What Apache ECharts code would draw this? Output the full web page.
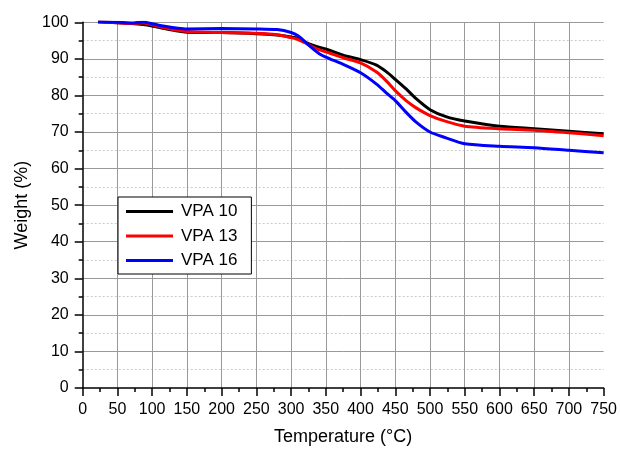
<!DOCTYPE html>
<html>
<head>
<meta charset="utf-8">
<script src="https://cdn.jsdelivr.net/npm/echarts@6/dist/echarts.min.js"></script>
<style>
  html, body { margin: 0; padding: 0; background: #fff; }
  #chart { width: 620px; height: 451px; }
</style>
</head>
<body>
<div id="chart"></div>
<script>
// temperature (°C) sample points
var temps = [22, 50, 70, 87, 100, 118, 137, 150, 200, 250, 280, 300, 310, 320, 330, 340, 350, 375, 400, 423, 437, 450, 466, 480, 500, 523, 550, 600, 650, 700, 750];
// weight (%) for each sample
var vpa10 = [100.1, 99.9, 99.7, 99.4, 99.0, 98.3, 97.6, 97.3, 97.2, 96.9, 96.5, 96.0, 95.6, 94.6, 93.8, 93.2, 92.7, 91.0, 89.8, 88.3, 86.5, 84.4, 81.7, 79.1, 76.1, 74.2, 73.0, 71.6, 70.9, 70.2, 69.5];
var vpa13 = [100.2, 99.9, 99.7, 99.8, 99.3, 98.5, 97.8, 97.5, 97.2, 97.0, 96.6, 95.8, 95.3, 94.4, 93.4, 92.5, 91.9, 90.3, 88.9, 86.4, 84.0, 81.3, 78.5, 76.6, 74.5, 72.9, 71.6, 70.9, 70.5, 69.8, 69.0];
var vpa16 = [100.2, 100.0, 99.8, 100.1, 99.6, 98.9, 98.4, 98.2, 98.3, 98.2, 98.0, 97.2, 96.3, 94.7, 93.0, 91.5, 90.5, 88.5, 86.2, 83.1, 80.7, 78.6, 75.3, 72.7, 70.0, 68.4, 66.8, 66.1, 65.7, 65.0, 64.3];
var seriesNames = ['VPA 10', 'VPA 13', 'VPA 16'];
var seriesColors = ['#000000', '#ff0000', '#0000ff'];
var xTicks = { min: 0, max: 750, step: 50 };
var yTicks = { min: 0, max: 100, step: 10 };

function pairs(xs, ys) {
  var out = [];
  for (var i = 0; i < xs.length; i++) {
    out.push([xs[i], ys[i]]);
  }
  return out;
}

var font = '"Liberation Sans", Arial, sans-serif';
var allData = [vpa10, vpa13, vpa16];
var series = [];
for (var i = 0; i < seriesNames.length; i++) {
  series.push({
    name: seriesNames[i],
    type: 'line',
    symbol: 'none',
    smooth: 0.25,
    data: pairs(temps, allData[i]),
    lineStyle: { color: seriesColors[i], width: 3 },
    itemStyle: { color: seriesColors[i] }
  });
}

var myChart = echarts.init(document.getElementById('chart'));
var option = {
  animation: false,
  backgroundColor: '#fff',
  grid: {
    left: 82.7,
    right: 15,
    top: 22.3,
    bottom: 58.3
  },
  legend: {
    orient: 'vertical',
    left: 118,
    top: 197,
    data: seriesNames,
    icon: 'rect',
    backgroundColor: '#fff',
    borderColor: '#000',
    borderWidth: 1,
    borderRadius: 0,
    padding: [6, 14, 5, 8],
    itemWidth: 47,
    itemHeight: 3,
    itemGap: 7.5,
    textStyle: { fontFamily: font, fontSize: 17, color: '#000', padding: [0, 0, 0, 3] }
  },
  xAxis: {
    type: 'value',
    min: xTicks.min,
    max: xTicks.max,
    interval: xTicks.step,
    name: 'Temperature (°C)',
    nameLocation: 'middle',
    nameGap: 40,
    nameTextStyle: { fontFamily: font, fontSize: 18, color: '#000' },
    axisLine: { show: true, onZero: false, lineStyle: { color: '#000', width: 1.5 } },
    axisTick: { show: true, inside: false, length: 8, lineStyle: { color: '#000', width: 1.5 } },
    minorTick: { show: true, splitNumber: 2, length: 4, lineStyle: { color: '#000', width: 1.5 } },
    axisLabel: { fontFamily: font, fontSize: 16, color: '#000', margin: 14 },
    splitLine: { show: true, showMinLine: false, showMaxLine: false, lineStyle: { color: '#999', width: 1 } }
  },
  yAxis: {
    type: 'value',
    min: yTicks.min,
    max: yTicks.max,
    interval: yTicks.step,
    name: 'Weight (%)',
    nameLocation: 'middle',
    nameGap: 52,
    nameTextStyle: { fontFamily: font, fontSize: 18, color: '#000' },
    axisLine: { show: true, onZero: false, lineStyle: { color: '#000', width: 1.5 } },
    axisTick: { show: true, inside: false, length: 8, lineStyle: { color: '#000', width: 1.5 } },
    minorTick: { show: true, splitNumber: 2, length: 4, lineStyle: { color: '#000', width: 1.5 } },
    axisLabel: { fontFamily: font, fontSize: 16, color: '#000', margin: 14 },
    splitLine: { show: true, showMinLine: false, lineStyle: { color: '#999', width: 1 } },
    minorSplitLine: { show: true, lineStyle: { color: '#ccc', width: 1, type: [2, 2] } }
  },
  series: series
};
option && myChart.setOption(option);
</script>
</body>
</html>
